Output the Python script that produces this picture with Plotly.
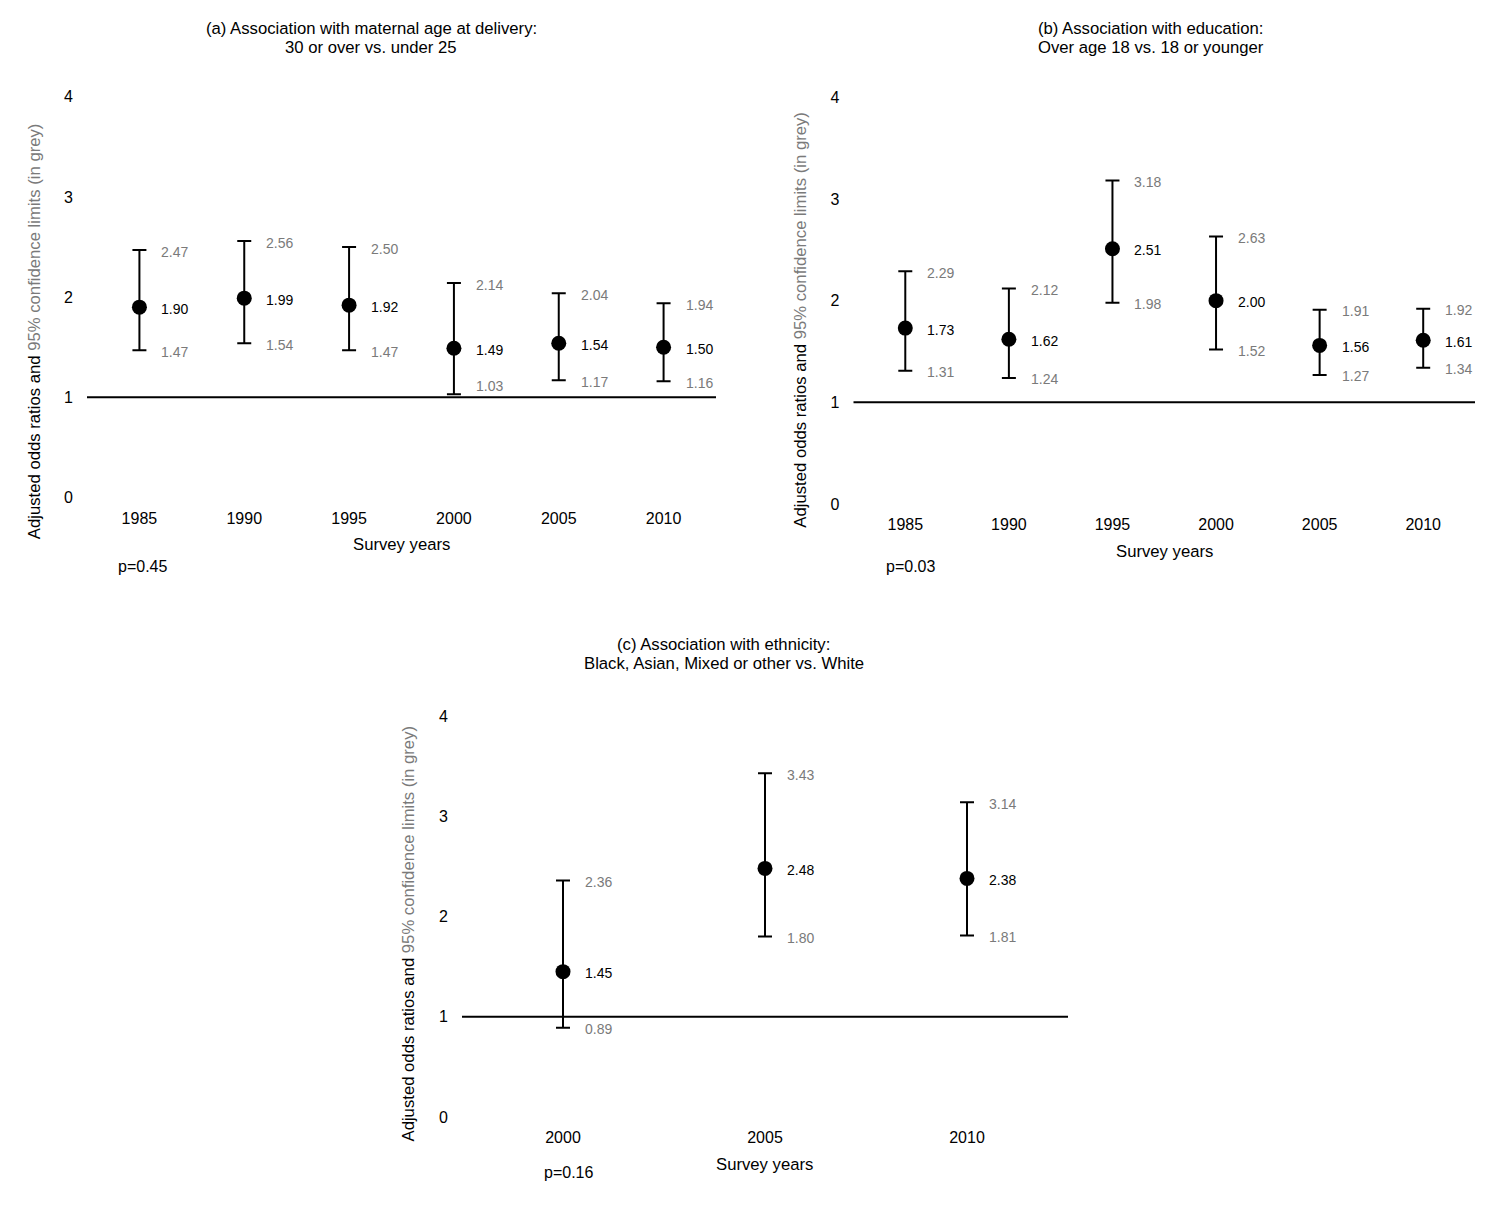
import plotly.graph_objects as go

W, H = 1500, 1222
FONT = "Liberation Sans, Arial, sans-serif"
GREY = "#7a7a7a"

# ---------------- data ----------------
years_a = ["1985", "1990", "1995", "2000", "2005", "2010"]
or_a = [1.90, 1.99, 1.92, 1.49, 1.54, 1.50]
lo_a = [1.47, 1.54, 1.47, 1.03, 1.17, 1.16]
hi_a = [2.47, 2.56, 2.50, 2.14, 2.04, 1.94]

years_b = ["1985", "1990", "1995", "2000", "2005", "2010"]
or_b = [1.73, 1.62, 2.51, 2.00, 1.56, 1.61]
lo_b = [1.31, 1.24, 1.98, 1.52, 1.27, 1.34]
hi_b = [2.29, 2.12, 3.18, 2.63, 1.91, 1.92]

years_c = ["2000", "2005", "2010"]
or_c = [1.45, 2.48, 2.38]
lo_c = [0.89, 1.80, 1.81]
hi_c = [2.36, 3.43, 3.14]

y_ticks = [0, 1, 2, 3, 4]

titles = [
    ["(a) Association with maternal age at delivery:", "30 or over vs. under 25"],
    ["(b) Association with education:", "Over age 18 vs. 18 or younger"],
    ["(c) Association with ethnicity:", "Black, Asian, Mixed or other vs. White"],
]
p_values = ["p=0.45", "p=0.03", "p=0.16"]
x_title = "Survey years"
y_title = ("Adjusted odds ratios and "
           f"<span style='color:{GREY}'>95% confidence limits (in grey)</span>")

# ---------------- layout (target pixel geometry on the page) ----------------
panels = [
    dict(years=years_a, orr=or_a, lo=lo_a, hi=hi_a,
         x0=87, x1=716, ytop=96.5, ybot=497.5,
         title=(371, 28, 47), xt=(401, 544.5), yt=(34.5, 331.5), p=(142, 566)),
    dict(years=years_b, orr=or_b, lo=lo_b, hi=hi_b,
         x0=853.5, x1=1475, ytop=97, ybot=504,
         title=(1150.5, 28, 47.5), xt=(1164, 551), yt=(800.5, 320), p=(910.5, 566.5)),
    dict(years=years_c, orr=or_c, lo=lo_c, hi=hi_c,
         x0=462, x1=1068, ytop=716, ybot=1117,
         title=(723.5, 644.5, 663.5), xt=(764.5, 1164.5), yt=(408.5, 934), p=(568, 1173)),
]

# the page places the figure with a small offset; convert page pixels to figure fractions
OFF_X, OFF_Y, SCALE_Y = 8.0, 15.8, 0.9863


def px(x):
    return (x - OFF_X) / W


def py(y):
    return 1 - ((y - OFF_Y) / SCALE_Y) / H


fig = go.Figure()
annotations = []
shapes = []

for i, p in enumerate(panels):
    k = "" if i == 0 else str(i + 1)
    xa, ya = "x" + k, "y" + k
    n = len(p["years"])
    idx = list(range(n))

    fig.add_trace(go.Scatter(
        x=idx, y=p["orr"], mode="markers",
        marker=dict(color="black", size=15),
        error_y=dict(type="data", symmetric=False,
                     array=[h - o for h, o in zip(p["hi"], p["orr"])],
                     arrayminus=[o - l for o, l in zip(p["orr"], p["lo"])],
                     color="black", thickness=2, width=7),
        xaxis=xa, yaxis=ya, showlegend=False, hoverinfo="skip",
    ))

    fig.layout["xaxis" + k] = dict(
        domain=[px(p["x0"]), px(p["x1"])], anchor=ya,
        range=[-0.5, n - 0.5], tickvals=idx, ticktext=p["years"],
        showgrid=False, zeroline=False, showline=False, ticks="",
        ticklabelstandoff=9,
        tickfont=dict(family=FONT, size=16, color="black"),
    )
    fig.layout["yaxis" + k] = dict(
        domain=[py(p["ybot"]), py(p["ytop"])], anchor=xa,
        range=[0, 4], tickvals=y_ticks, ticktext=[str(t) for t in y_ticks],
        showgrid=False, zeroline=False, showline=False, ticks="",
        ticklabelstandoff=13,
        tickfont=dict(family=FONT, size=16, color="black"),
    )

    # reference line at OR = 1
    shapes.append(dict(type="line", xref=xa + " domain", yref=ya,
                       x0=0, x1=1, y0=1, y1=1,
                       line=dict(color="black", width=2)))

    # value labels
    for j, o, l, h in zip(idx, p["orr"], p["lo"], p["hi"]):
        for v, col in ((h, GREY), (o, "black"), (l, GREY)):
            ys = -1.5
            if v > 1 and v - 1 < 0.08:
                ys = 8
            annotations.append(dict(
                x=j, y=v, xref=xa, yref=ya, text=f"{v:.2f}",
                showarrow=False, xanchor="left", yanchor="middle",
                xshift=20, yshift=ys,
                font=dict(family=FONT, size=14, color=col)))

    # titles / axis titles / p-values
    for line, yy in zip(titles[i], p["title"][1:]):
        annotations.append(dict(
            x=px(p["title"][0]), y=py(yy), xref="paper", yref="paper",
            text=line, showarrow=False, xanchor="center", yanchor="middle",
            font=dict(family=FONT, size=16.7, color="black")))
    annotations.append(dict(
        x=px(p["xt"][0]), y=py(p["xt"][1]), xref="paper", yref="paper",
        text=x_title, showarrow=False, xanchor="center", yanchor="middle",
        font=dict(family=FONT, size=16.7, color="black")))
    annotations.append(dict(
        x=px(p["yt"][0]), y=py(p["yt"][1]), xref="paper", yref="paper",
        text=y_title, textangle=-90, showarrow=False,
        xanchor="center", yanchor="middle",
        font=dict(family=FONT, size=16.7, color="black")))
    annotations.append(dict(
        x=px(p["p"][0]), y=py(p["p"][1]), xref="paper", yref="paper",
        text=p_values[i], showarrow=False, xanchor="center", yanchor="middle",
        font=dict(family=FONT, size=16, color="black")))

fig.update_layout(
    width=W, height=H,
    margin=dict(l=0, r=0, t=0, b=0),
    paper_bgcolor="white", plot_bgcolor="white",
    annotations=annotations, shapes=shapes,
    showlegend=False,
)

fig.write_html("out.html")
